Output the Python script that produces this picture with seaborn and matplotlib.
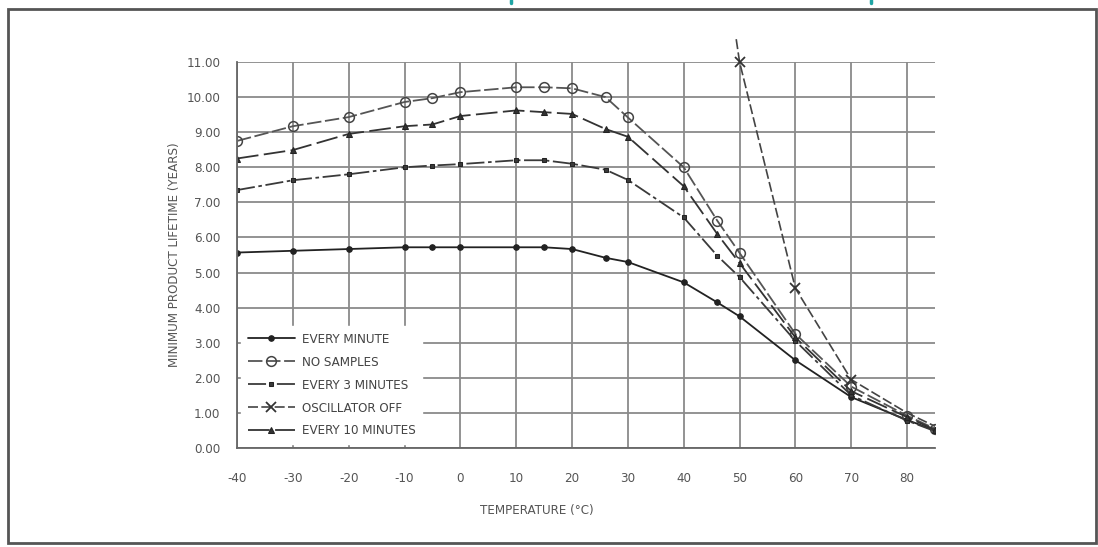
import pandas as pd
import matplotlib.pyplot as plt
import seaborn as sns
from matplotlib.patches import Rectangle
from matplotlib.lines import Line2D
from matplotlib import font_manager

# temperatures (deg C) where the curves have points
temps = [-40, -30, -20, -10, -5, 0, 10, 15, 20, 26, 30, 40, 46, 50, 60, 70, 80, 85]

every_minute = [5.57, 5.62, 5.67, 5.72, 5.72, 5.72, 5.72, 5.72, 5.67, 5.42, 5.3, 4.72, 4.15, 3.75, 2.5, 1.45, 0.8, 0.5]
no_samples = [8.75, 9.17, 9.43, 9.86, 9.97, 10.14, 10.28, 10.28, 10.25, 10.0, 9.42, 8.0, 6.48, 5.56, 3.25, 1.75, 0.92, 0.55]
every_3_min = [7.35, 7.63, 7.8, 8.0, 8.05, 8.09, 8.2, 8.2, 8.1, 7.93, 7.64, 6.57, 5.48, 4.87, 3.05, 1.5, 0.78, 0.48]
every_10_min = [8.25, 8.49, 8.95, 9.17, 9.22, 9.46, 9.62, 9.57, 9.52, 9.09, 8.87, 7.46, 6.1, 5.27, 3.15, 1.62, 0.88, 0.52]

osc_temps = [49.4, 50, 60, 70, 80, 85]
osc_off = [11.65, 11.0, 4.55, 1.95, 1.0, 0.62]

xticks = [-40, -30, -20, -10, 0, 10, 20, 30, 40, 50, 60, 70, 80]
yticks = [0, 1, 2, 3, 4, 5, 6, 7, 8, 9, 10, 11]

sns.set_style("white")
plt.rcParams['font.family'] = ['DejaVu Sans']
plt.rcParams['font.stretch'] = 'condensed'
plt.rcParams['axes.unicode_minus'] = False
print(sorted({f.name + " " + str(f.stretch) for f in font_manager.fontManager.ttflist if "DejaVu" in f.name or "Liberation" in f.name}))

fig = plt.figure(figsize=(10.98, 5.47), dpi=100)
ax = fig.add_axes([237 / 1098, 1 - 448 / 547, 698 / 1098, 386 / 547])

df = pd.DataFrame({"temp": temps, "EVERY MINUTE": every_minute, "NO SAMPLES": no_samples,
                   "EVERY 3 MINUTES": every_3_min, "EVERY 10 MINUTES": every_10_min})
osc = pd.DataFrame({"temp": osc_temps, "OSCILLATOR OFF": osc_off})

sns.lineplot(data=df, x="temp", y="EVERY MINUTE", ax=ax, color="#222222", lw=1.3,
             marker="o", ms=4, mec="#222222", label="EVERY MINUTE")
sns.lineplot(data=df, x="temp", y="NO SAMPLES", ax=ax, color="#555555", lw=1.3,
             linestyle=(0, (8, 2)), marker="o", ms=7, mfc="none", mec="#444444", mew=1.1,
             label="NO SAMPLES")
sns.lineplot(data=df, x="temp", y="EVERY 3 MINUTES", ax=ax, color="#3a3a3a", lw=1.3,
             linestyle=(0, (10, 2, 2, 2)), marker="s", ms=3.5, mec="#222222",
             label="EVERY 3 MINUTES")
sns.lineplot(data=osc, x="temp", y="OSCILLATOR OFF", ax=ax, color="#444444", lw=1.2,
             linestyle=(0, (6, 2)), marker="x", ms=7, mew=1.3, mec="#333333",
             markevery=[1, 2, 3], clip_on=False, label="OSCILLATOR OFF")
sns.lineplot(data=df, x="temp", y="EVERY 10 MINUTES", ax=ax, color="#333333", lw=1.3,
             linestyle=(0, (12, 3)), marker="^", ms=5, mec="#222222",
             label="EVERY 10 MINUTES")

ax.set_xlim(-40, 85)
ax.set_ylim(0, 11)
ax.set_xticks(xticks)
ax.set_yticks(yticks)
ax.set_yticklabels([f"{v:.2f}" for v in yticks])
ax.grid(True, color="#8a8a8a", lw=1.3)
ax.set_axisbelow(True)
for s in ["top", "right"]:
    ax.spines[s].set_visible(False)
for s in ["left", "bottom"]:
    ax.spines[s].set_color("#666666")
    ax.spines[s].set_linewidth(1.3)
ax.tick_params(axis="x", direction="inout", length=14, width=1.1, color="#666666",
               pad=10, labelsize=9.5, labelcolor="#555555")
ax.tick_params(axis="y", direction="out", length=7, width=1.1, color="#666666",
               pad=5, labelsize=9.5, labelcolor="#555555")

ax.set_xlabel("TEMPERATURE (°C)", fontsize=9.5, color="#555555")
ax.set_ylabel("MINIMUM PRODUCT LIFETIME (YEARS)", fontsize=9.5, color="#555555")
ax.xaxis.set_label_coords(0.43, -0.145)
ax.yaxis.set_label_coords(-0.08, 0.5)

order = ["EVERY MINUTE", "NO SAMPLES", "EVERY 3 MINUTES", "OSCILLATOR OFF", "EVERY 10 MINUTES"]
h, l = ax.get_legend_handles_labels()
hd = dict(zip(l, h))
leg = ax.legend([hd[k] for k in order], order, loc="lower left", bbox_to_anchor=(0.0, 0.0),
                frameon=True, facecolor="white", edgecolor="white", framealpha=1,
                fontsize=9.5, labelcolor="#444444", handlelength=3.6, labelspacing=0.75,
                borderaxespad=0.3, borderpad=0.5, handletextpad=0.5)

# outer frame of the scanned figure
fig.add_artist(Rectangle((8 / 1098, 4 / 547), 1088 / 1098, 534 / 547, fill=False,
                         edgecolor="#555555", lw=2, transform=fig.transFigure))
# bits of the cut-off teal heading
for xp in [511, 871]:
    fig.add_artist(Line2D([xp / 1098, xp / 1098], [1, 1 - 3 / 547], color="#1fa5a5",
                          lw=2.5, transform=fig.transFigure))

fig.savefig("out.png", dpi=100)
